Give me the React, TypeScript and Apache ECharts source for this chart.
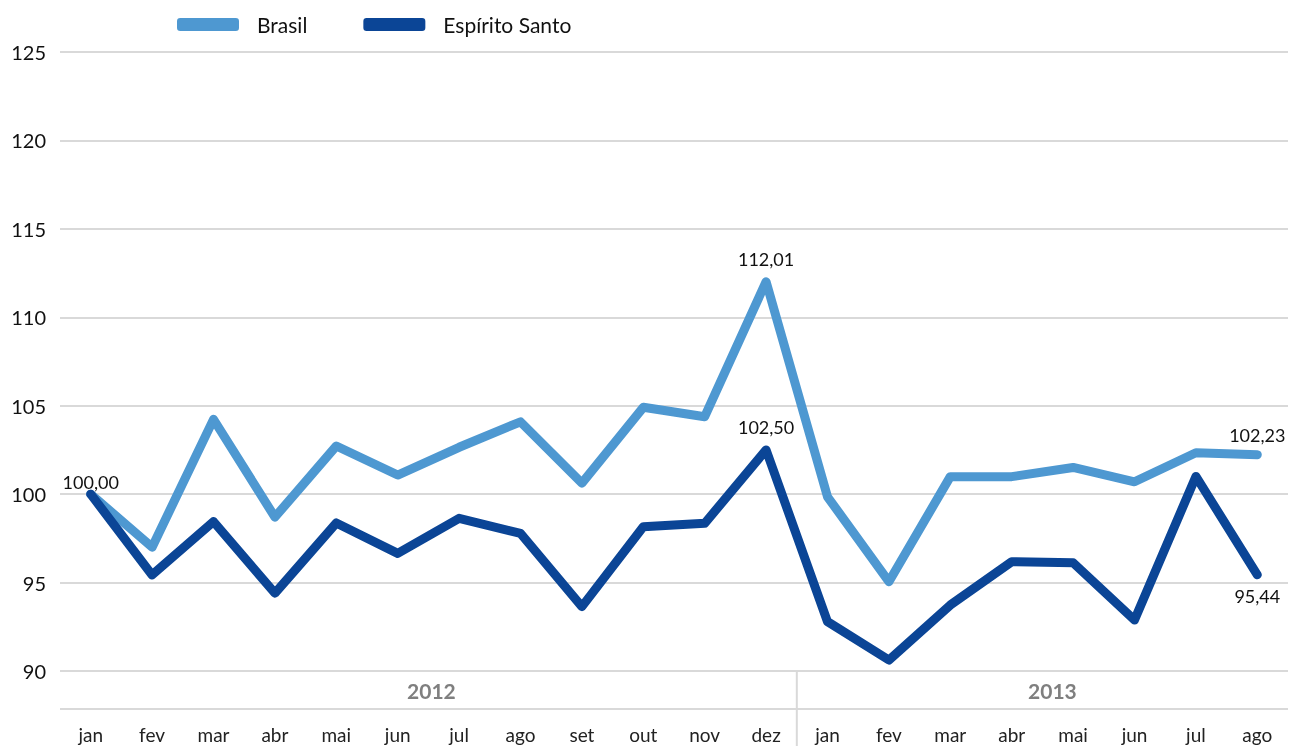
import React, { useEffect, useRef } from "react";
import * as echarts from "echarts";

const months = ["jan", "fev", "mar", "abr", "mai", "jun", "jul", "ago", "set", "out", "nov", "dez", "jan", "fev", "mar", "abr", "mai", "jun", "jul", "ago"];
const years = ["2012", "2013"];
const yearStart = [0, 12];
const yearEnd = [11, 19];
const brasil = [100.0, 97.0, 104.23, 98.7, 102.72, 101.08, 102.65, 104.09, 100.62, 104.91, 104.38, 112.01, 99.85, 95.05, 100.99, 100.99, 101.51, 100.7, 102.34, 102.23];
const espiritoSanto = [100.0, 95.43, 98.45, 94.4, 98.37, 96.65, 98.63, 97.78, 93.64, 98.16, 98.35, 102.5, 92.79, 90.62, 93.73, 96.18, 96.12, 92.88, 101.0, 95.44];
const yTicks = [90, 95, 100, 105, 110, 115, 120, 125];

const FONT = "Lato, 'Open Sans', sans-serif";
const C_BR = "#4E98D1";
const C_ES = "#0B4596";

const fmt = (v: number) => v.toFixed(2).replace(".", ",");

export default function App() {
  const ref = useRef<HTMLDivElement>(null);
  useEffect(() => {
    document.body.style.margin = "0";
    const chart = echarts.init(ref.current!, undefined, { renderer: "svg" });
    const lbl = (pos: string, dist: number) => ({
      show: true,
      position: pos,
      distance: dist,
      formatter: (p: any) => fmt(p.value),
      fontFamily: FONT,
      fontSize: 18,
      color: "#111",
    });
    const brData = brasil.map((v, i) => {
      if (i === 0) return { value: v, label: lbl("top", 3) };
      if (i === 11) return { value: v, label: lbl("top", 13) };
      if (i === brasil.length - 1) return { value: v, label: lbl("top", 10) };
      return v;
    });
    const esData = espiritoSanto.map((v, i) => {
      if (i === 11) return { value: v, label: lbl("top", 13) };
      if (i === espiritoSanto.length - 1) return { value: v, label: lbl("bottom", 12) };
      return v;
    });
    const option: any = {
      animation: false,
      grid: { left: 60, right: 6, top: 52, bottom: 75, containLabel: false },
      legend: {
        left: 177,
        top: 12,
        padding: 0,
        icon: "roundRect",
        itemWidth: 62,
        itemHeight: 13,
        itemGap: 56,
        textStyle: { fontFamily: FONT, fontSize: 21, color: "#111", padding: [0, 0, 0, 13], lineHeight: 25 },
        data: ["Brasil", "Espírito Santo"],
      },
      xAxis: {
        type: "category",
        data: months,
        boundaryGap: true,
        axisLine: { show: false },
        axisTick: { show: false },
        axisLabel: { margin: 54, fontFamily: FONT, fontSize: 19, color: "#222", interval: 0 },
        splitLine: { show: false },
      },
      yAxis: {
        type: "value",
        min: 90,
        max: 125,
        interval: 5,
        axisLine: { show: false },
        axisTick: { show: false },
        axisLabel: { margin: 14, fontFamily: FONT, fontSize: 20, color: "#111", formatter: (v: number) => (yTicks.includes(v) ? String(v) : "") },
        splitLine: { lineStyle: { color: "#D9D9D9", width: 2 } },
      },
      series: [
        {
          name: "Brasil",
          type: "line",
          data: brData,
          symbol: "circle",
          symbolSize: 1,
          showSymbol: true,
          itemStyle: { color: C_BR },
          lineStyle: { color: C_BR, width: 9, cap: "round", join: "round" },
          z: 2,
        },
        {
          name: "Espírito Santo",
          type: "line",
          data: esData,
          symbol: "circle",
          symbolSize: 1,
          showSymbol: true,
          itemStyle: { color: C_ES },
          lineStyle: { color: C_ES, width: 9, cap: "round", join: "round" },
          z: 3,
        },
      ],
    };
    chart.setOption(option);

    const px = (i: number, v: number) => chart.convertToPixel({ gridIndex: 0 }, [i, v]) as number[];
    const x0 = px(0, 90)[0];
    const x1 = px(1, 90)[0];
    const band = x1 - x0;
    const yBase = px(0, 90)[1];
    const left = x0 - band / 2;
    const right = px(months.length - 1, 90)[0] + band / 2;
    const sepX = (px(11, 90)[0] + px(12, 90)[0]) / 2;
    const graphics: any[] = [
      { type: "line", shape: { x1: left, y1: yBase + 38, x2: right, y2: yBase + 38 }, style: { stroke: "#D9D9D9", lineWidth: 2 }, silent: true },
      { type: "line", shape: { x1: sepX, y1: yBase, x2: sepX, y2: 746 }, style: { stroke: "#D9D9D9", lineWidth: 2 }, silent: true },
    ];
    years.forEach((yr, k) => {
      const a = yearStart[k] === 0 ? left : (px(yearStart[k] - 1, 90)[0] + px(yearStart[k], 90)[0]) / 2;
      const b = yearEnd[k] === months.length - 1 ? right : (px(yearEnd[k], 90)[0] + px(yearEnd[k] + 1, 90)[0]) / 2;
      graphics.push({
        type: "text",
        x: (a + b) / 2 + (k === 0 ? 3 : 10),
        y: yBase + 19,
        style: { text: yr, fontFamily: FONT, fontSize: 21, fontWeight: "bold", fill: "#7F7F7F", textAlign: "center", textVerticalAlign: "middle" },
        silent: true,
      });
    });
    chart.setOption({ graphic: graphics });
    return () => chart.dispose();
  }, []);
  return <div ref={ref} style={{ position: "fixed", left: 0, top: 0, width: 1294, height: 746 }} />;
}
